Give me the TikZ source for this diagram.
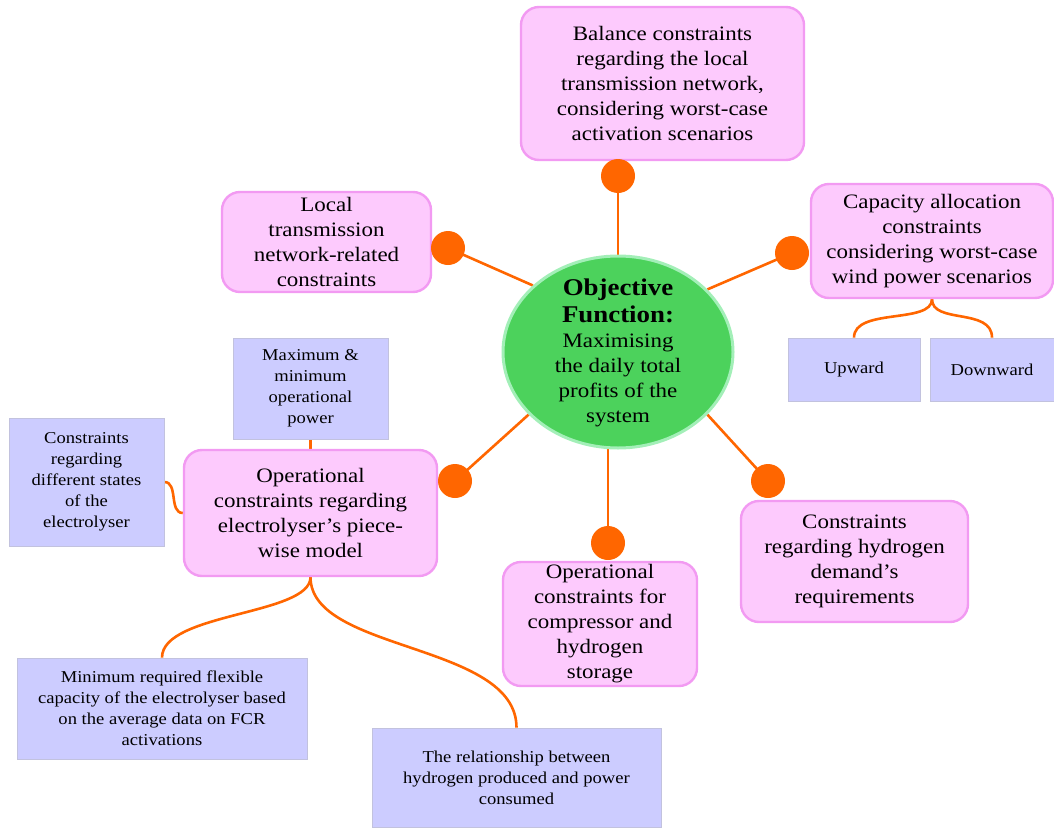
\documentclass[tikz,border=0pt]{standalone}
\usepackage{fontspec}
\setmainfont{Liberation Serif}[FakeStretch=1.12]
\usetikzlibrary{shapes.geometric,backgrounds}

\definecolor{pinkfill}{HTML}{FDCAFD}
\definecolor{pinkedge}{HTML}{F29AF2}
\definecolor{bluefill}{HTML}{CCCCFF}
\definecolor{blueedge}{HTML}{C2C2DE}
\definecolor{linkorange}{HTML}{FF6600}
\definecolor{objgreen}{HTML}{4CD25C}
\definecolor{objedge}{HTML}{A3EFB8}

\begin{document}
\begin{tikzpicture}[x=1pt,y=-1pt,
  pinkbox/.style={draw=pinkedge, fill=pinkfill, line width=2.4pt,
    rounded corners=18pt, align=center, inner sep=0pt,
    font=\fontsize{20.5}{25}\selectfont},
  bluebox/.style={draw=blueedge, fill=bluefill, line width=0.8pt,
    align=center, inner sep=0pt, font=\fontsize{16.6}{21}\selectfont},
  hub/.style={circle, fill=linkorange, minimum size=34pt, inner sep=0pt},
  link/.style={draw=linkorange, line width=2.6pt},
]
\useasboundingbox (0,0) rectangle (1054,827);

% central objective
\node[ellipse, minimum width=230pt, minimum height=192pt, fill=objgreen,
      draw=objedge, line width=3pt, inner sep=0pt] (obj) at (618,352) {};
\node[align=center, inner sep=0pt, font=\fontsize{20.5}{25}\selectfont]
  (objtext) at (618,353)
  {{\bfseries\fontsize{24}{29}\selectfont Objective}\\[2pt]
   {\bfseries\fontsize{24}{29}\selectfont Function:}\\
   Maximising\\the daily total\\profits of the\\system};

% constraint groups
\node[pinkbox, minimum width=283pt, minimum height=153pt] (bal) at (662.5,83.5)
  {Balance constraints\\regarding the local\\transmission network,\\considering worst-case\\activation scenarios};
\node[pinkbox, minimum width=209pt, minimum height=100pt] (loc) at (326.5,242)
  {Local\\transmission\\network-related\\constraints};
\node[pinkbox, minimum width=242pt, minimum height=114pt] (cap) at (932,241)
  {Capacity allocation\\constraints\\considering worst-case\\wind power scenarios};
\node[pinkbox, minimum width=253pt, minimum height=126pt] (ele) at (310.5,513)
  {Operational\\constraints regarding\\electrolyser’s piece-\\wise model};
\node[pinkbox, minimum width=194pt, minimum height=124pt] (cmp) at (600,624)
  {Operational\\constraints for\\compressor and\\hydrogen\\storage};
\node[pinkbox, minimum width=227pt, minimum height=121pt] (hyd) at (854.5,561.5)
  {Constraints\\regarding hydrogen\\demand’s\\requirements};

% sub-items
\node[bluebox, minimum width=155pt, minimum height=101pt] (mxm) at (310.5,388.5)
  {Maximum \&\\minimum\\operational\\power};
\node[bluebox, minimum width=155pt, minimum height=128pt] (sts) at (86.5,482)
  {Constraints\\regarding\\different states\\of the\\electrolyser};
\node[bluebox, minimum width=132pt, minimum height=63pt] (upw) at (854,369.5) {Upward};
\node[bluebox, minimum width=124pt, minimum height=63pt] (dnw) at (992,369.5) {Downward};
\node[bluebox, minimum width=290pt, minimum height=101pt] (flx) at (162,708.5)
  {Minimum required flexible\\capacity of the electrolyser based\\on the average data on FCR\\activations};
\node[bluebox, minimum width=289pt, minimum height=99pt] (rel) at (516.5,777.5)
  {The relationship between\\hydrogen produced and power\\consumed};

% connector hubs
\node[hub] (hbal) at (618,176) {};
\node[hub] (hloc) at (448,248) {};
\node[hub] (hcap) at (792,253) {};
\node[hub] (hele) at (455,481) {};
\node[hub] (hcmp) at (608,543) {};
\node[hub] (hhyd) at (768,481) {};

\begin{scope}[on background layer]
  \draw[link] (obj.90)  -- (hbal.center);
  \draw[link] (obj.142) -- (hloc.center);
  \draw[link] (obj.35)  -- (hcap.center);
  \draw[link] (obj.215) -- (hele.center);
  \draw[link] (hcmp |- obj.center) -- (hcmp.center);
  \draw[link] (obj.-35) -- (hhyd.center);

  \draw[link] (cap.south) .. controls +(0,25) and +(0,-30) .. (upw.north);
  \draw[link] (cap.south) .. controls +(0,25) and +(0,-30) .. (dnw.north);
  \draw[link] (mxm.south) -- (ele.north);
  \draw[link] (sts.east) .. controls +(14,0) and +(-14,0) .. (ele.west);
  \draw[link] (ele.south) .. controls +(0,38) and +(0,-45) .. (flx.north);
  \draw[link] (ele.south) .. controls +(0,75) and +(0,-85) .. (rel.north);
\end{scope}
\end{tikzpicture}
\end{document}
